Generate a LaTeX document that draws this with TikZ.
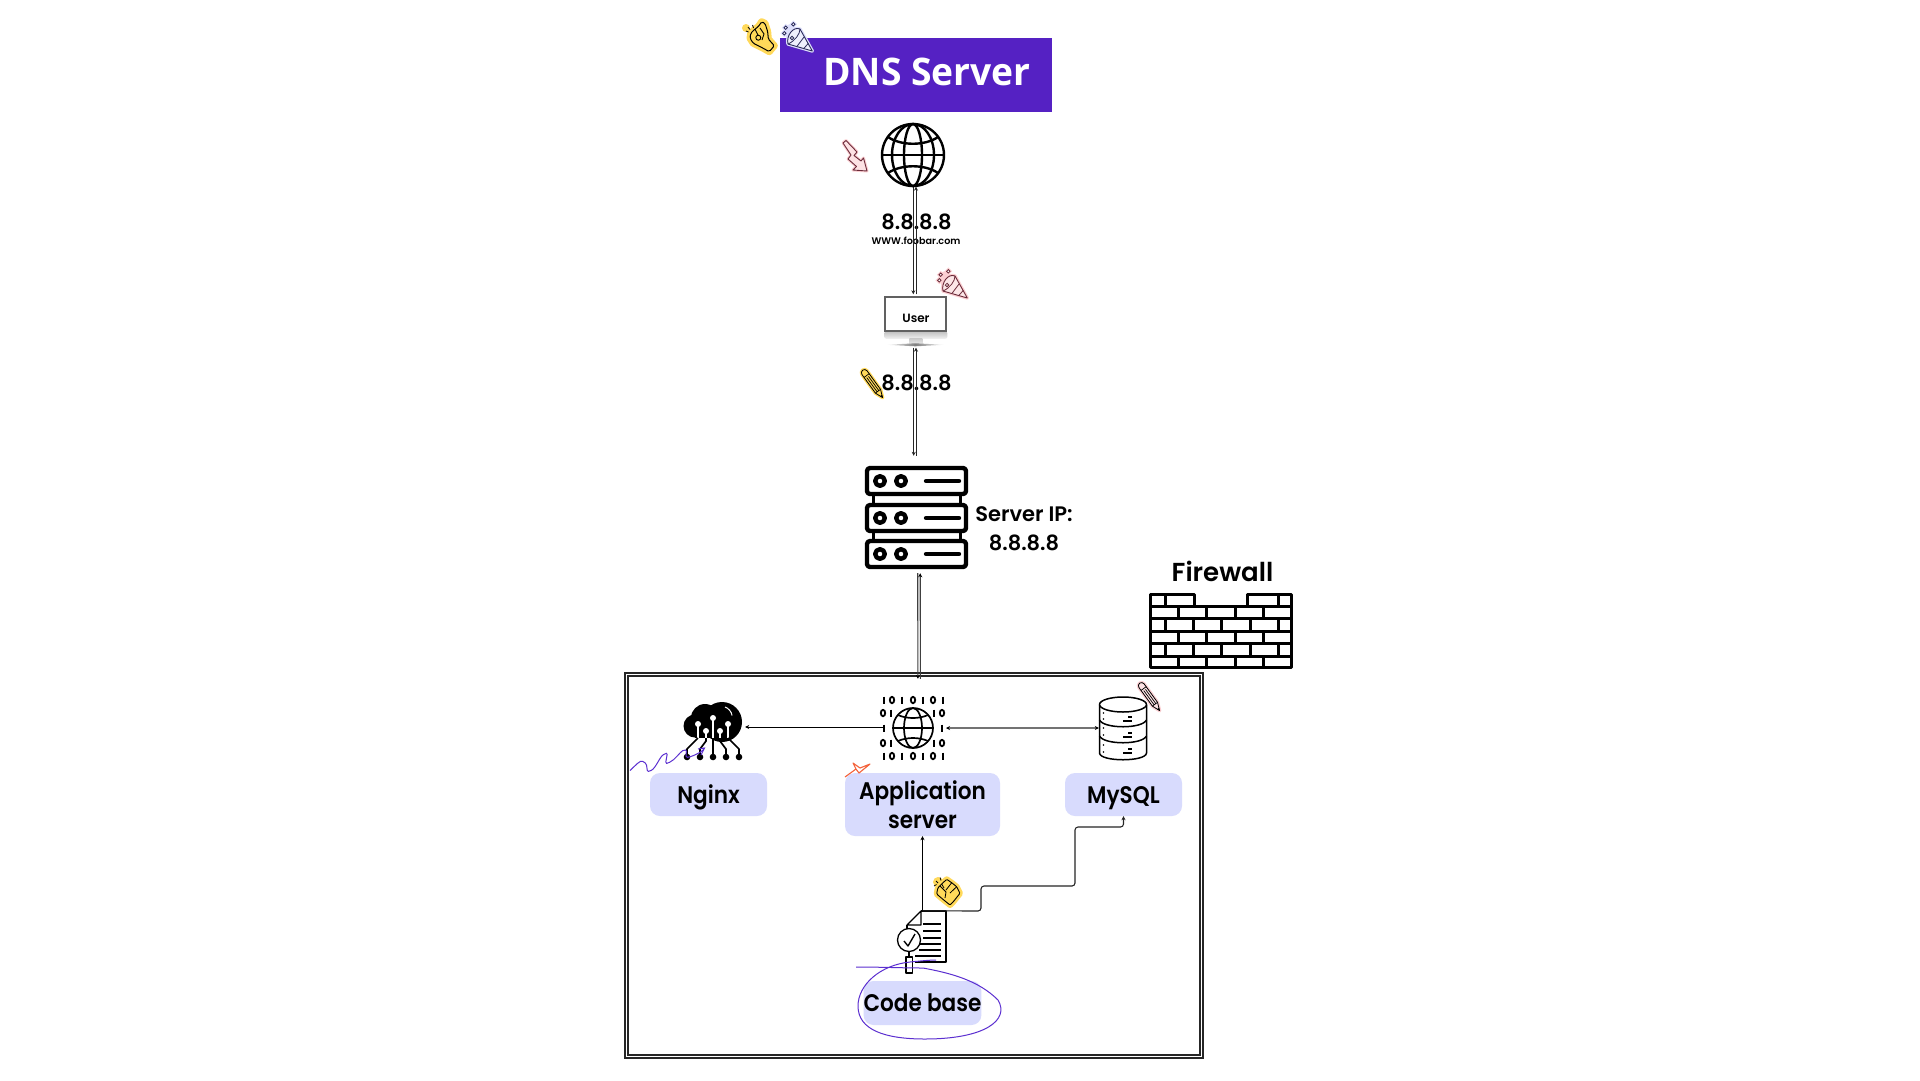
\documentclass[tikz,border=0pt]{standalone}
\usepackage{fontspec}
\usetikzlibrary{arrows.meta,calc,shapes.geometric}
\newfontfamily\dmf{Poppins SemiBold}
\newfontfamily\dmn[FakeStretch=0.9]{Poppins SemiBold}
\newfontfamily\banf{Open Sans}[BoldFont={Open Sans Bold},FakeStretch=0.98]
\definecolor{banner}{HTML}{5521C3}
\definecolor{pill}{HTML}{D8DBFD}
\definecolor{scrib}{HTML}{5B2FD0}
\definecolor{stickY}{HTML}{FFD95A}
\definecolor{stickP}{HTML}{FBCFD2}
\definecolor{stickB}{HTML}{DDDFFB}
\definecolor{inkred}{HTML}{6B2B3A}
\definecolor{inkblu}{HTML}{2B2B5B}
\definecolor{star}{HTML}{F4623A}
\tikzset{
  x=1pt,y=-1pt,
  conn/.style={line width=.9pt,draw=black!85,-{Stealth[length=4pt,width=4pt]}},
  conng/.style={line width=1.1pt,draw=black!75,-{Stealth[length=4pt,width=4pt,black]}},
  pillbox/.style={fill=pill,rounded corners=10pt,inner sep=0pt,align=center,font=\dmn\fontsize{24}{29.5}\selectfont},
  capcentred/.style={text height=17pt,text depth=0pt},
  lbl/.style={inner sep=0pt,align=center,font=\dmf\fontsize{21}{29.5}\selectfont},
  icon/.style={inner sep=0pt,minimum width=#1},
}
% pencil sticker: start x,y, rotation, halo colour, body fill
\newcommand\skpencil[5]{\begin{scope}[shift={(#1,#2)},rotate=#3,scale=.88]
 \path[draw=#4,line width=3.4pt,line join=round,fill=#4] (1,-3.6) -- (27,-3.6) -- (36,0) -- (27,3.6) -- (1,3.6) arc[start angle=90,end angle=270,radius=3.6] -- cycle;
 \draw[line width=.8pt,fill=#5,line join=round] (1,-3.6) -- (27,-3.6) -- (36,0) -- (27,3.6) -- (1,3.6) arc[start angle=90,end angle=270,radius=3.6] -- cycle;
 \draw[line width=.7pt] (5,-3.6) -- (5,3.6) (7,-1.2) -- (27,-1.2) (7,1.2) -- (27,1.2) (27,-3.6) -- (27,3.6);
 \fill (33,-1) -- (36,0) -- (33,1) -- cycle;
\end{scope}}
% party cone sticker (30x30 box): x,y, halo, ink
\newcommand\skparty[4]{\begin{scope}[shift={(#1,#2)}]
 \path[fill=#3,draw=#3,line width=3.4pt,line join=round] (29.3,28) -- (5,21) .. controls (3,13) and (10,3) .. (17,6) -- cycle;
 \foreach \p in {(2.7,4.7),(10.3,1.3),(1.3,10.3)} \path[fill=#3,draw=#3,line width=3pt] \p circle[radius=1.7];
 \fill[#3] (1,3) -- (11,0) -- (14,10) -- (7,20) -- (1,11) -- cycle;
 \draw[#4,line width=.9pt,line join=round,fill=white!50!#3] (29.3,28) -- (5,21) .. controls (3,13) and (10,3) .. (17,6) -- cycle;
 \draw[#4,line width=.8pt] (14.3,23) -- (21,14) (21,25.3) -- (25.3,20.3) (17,6) .. controls (17,11) and (12,18) .. (5,21);
 \foreach \p in {(2.7,4.7),(10.3,1.3),(1.3,10.3),(9,15)} \draw[#4,line width=.8pt,fill=white] \p circle[radius=1.7];
\end{scope}}
\begin{document}
\begin{tikzpicture}
\useasboundingbox (0,0) rectangle (1920,1080);
\fill[white] (0,0) rectangle (1920,1080);

% ---- big box
\draw[line width=2.2pt,draw=black!85] (625,673) rectangle (1203,1058);
\draw[line width=1.8pt,draw=black!85] (628,676) rectangle (1200,1055);

% ---- nodes
\node[fill=banner,minimum width=272pt,minimum height=74pt,inner sep=0pt] (dns) at (916,75) {};
\node[inner sep=0pt,text=white,font=\banf\bfseries\fontsize{38}{38}\selectfont] (dnstext) at (927,72) {DNS Server};
\node[icon=63pt,minimum height=63pt] (globe) at (913,155) {};
\node[lbl] (ipa) at (916.5,222) {8.8.8.8};
\node[inner sep=0pt,font=\dmf\fontsize{9.6}{10}\selectfont] (www) at (916,241) {WWW.foobar.com};
\node[icon=63pt,minimum height=51pt] (user) at (916,321) {};
\node[lbl] (ipb) at (916.5,383) {8.8.8.8};
\node[icon=103pt,minimum height=103pt] (server) at (916.5,517.5) {};
\node[lbl] (srvip) at (1024,528.5) {Server IP:\\8.8.8.8};
\node[inner sep=0pt,font=\dmf\fontsize{26}{26}\selectfont] (fwtext) at (1222.5,571) {Firewall};
\node[draw=none,minimum width=578pt,minimum height=386pt,inner sep=0pt] (net) at (913,865) {};
\node[pillbox,capcentred,minimum width=117pt,minimum height=43pt] (nginx) at (708.5,794.5) {Nginx};
\node[pillbox,minimum width=155pt,minimum height=63pt] (app) at (922.5,804.5) {Application\\server};
\node[pillbox,capcentred,minimum width=117pt,minimum height=43pt] (mysql) at (1123.5,794.5) {MySQL};
\node[pillbox,minimum width=117pt,minimum height=44pt] (code) at (922.5,1003) {Code base};
\node[icon=58pt,minimum height=55pt] (cloud) at (713,730) {};
\node[icon=48pt,minimum height=62pt] (db) at (1123,728) {};
\node[icon=40pt,minimum height=40pt] (appglobe) at (913,728) {};
\node[icon=40pt,minimum height=62pt] (doc) at (926,942) {};

% ---- connector ends
\coordinate (g1) at ($(globe.south)+(0.3,0)$);
\coordinate (g2) at ($(globe.south)+(3,0)$);
\coordinate (u1) at ($(user.north)+(-2.7,-1)$);
\coordinate (u2) at ($(user.north)+(0,-1)$);
\coordinate (u3) at ($(user.south)+(-2.3,1)$);
\coordinate (u4) at ($(user.south)+(0,1)$);
\coordinate (s1) at ($(server.north)+(-2.8,-10)$);
\coordinate (s2) at ($(server.north)+(-0.5,-10)$);
\coordinate (s3) at ($(server.south)+(1.2,4)$);
\coordinate (s4) at ($(server.south)+(3.7,4)$);
\coordinate (n1) at ($(net.north)+(4.9,7)$);
\coordinate (n2) at ($(net.north)+(7.4,7)$);

% ---- vertical links
\draw[conn] (g1) -- (u1);
\draw[conn] (u2) -- (g2);
\draw[conn] (u3) -- (s1);
\draw[conn] (s2) -- (u4);
\draw[conng] (s3) -- (n1);
\draw[conng] (n2) -- (s4);

% ---- globe
\begin{scope}[shift={(globe.center)},line width=2.4pt,draw=black]
 \draw (0,0) circle[radius=31];
 \draw (0,0) ellipse[x radius=21,y radius=31];
 \draw (0,0) ellipse[x radius=9,y radius=31];
 \draw (-31,0) -- (31,0);
 \draw (-25,-18) .. controls (-12,-9) and (12,-9) .. (25,-18);
 \draw (-25,18) .. controls (-12,9) and (12,9) .. (25,18);
\end{scope}

% ---- monitor
\begin{scope}[shift={(user.north west)}]
 \shade[top color=black!25,bottom color=black!5,rounded corners=2pt] (0,36) rectangle (63,43.5);
 \shade[top color=black!20,bottom color=black!8] (25,43.5) rectangle (38,49);
 \draw[line width=1.7pt,draw=black!62,fill=white] (1,1.5) rectangle (62,36);
 \shade[left color=white,right color=white,middle color=black!50] (2,49.5) -- (31,48) -- (60,49.5) -- (31,51) -- cycle;
\end{scope}
\node[inner sep=0pt,font=\dmf\fontsize{12}{12}\selectfont] (usertext) at (916,318) {User};

% ---- server
\begin{scope}[line width=4.4pt,line join=round,draw=black]
 \draw[line width=3pt] (873,494) rectangle (960,505) (873,531) rectangle (960,541);
 \foreach \yy in {468,505,541} {
  \draw[rounded corners=3pt,fill=white] (867,\yy) rectangle (966,\yy+26);
  \draw (880,\yy+13) circle[radius=4.8];
  \draw (901,\yy+13) circle[radius=4.8];
  \draw[line cap=round] (926,\yy+13) -- (959,\yy+13);
 }
\end{scope}

% ---- firewall
\begin{scope}[line width=3pt,line join=round,draw=black]
 \draw (1150.5,594.5) -- (1194.5,594.5) -- (1194.5,606) -- (1247.5,606) -- (1247.5,594.5) -- (1291.5,594.5) -- (1291.5,667.5) -- (1150.5,667.5) -- cycle;
 \foreach \yy in {606,618.5,631,643.5,656} \draw (1150.5,\yy) -- (1291.5,\yy);
 \foreach \xx in {1165,1278} \draw (\xx,594.5) -- (\xx,606);
 \foreach \yy in {606,631,656} \foreach \xx in {1178.5,1206.5,1235,1263}
   \draw (\xx,\yy) -- (\xx,\yy+12.5);
 \foreach \yy in {618.5,643.5} \foreach \xx in {1165,1193,1221.5,1250,1278}
   \draw (\xx,\yy) -- (\xx,\yy+12.5);
\end{scope}

% ---- horizontal links
\coordinate (ag1) at (885,727);
\coordinate (ag2) at (946,728);
\coordinate (cg1) at ($(cloud.east)+(3,0)$);
\draw[line width=.9pt,-{Stealth[length=4pt,width=4pt]}] (ag1) -- (cg1 |- ag1);
\draw[line width=1.4pt,draw=black!55,{Stealth[length=4pt,width=4pt,black]}-{Stealth[length=4pt,width=4pt,black]}] (ag2) -- (db.west |- ag2);

% ---- cloud
\begin{scope}
 \fill (722,722) circle[radius=20];
 \fill (705,718) circle[radius=14];
 \fill (695,726) circle[radius=11.5];
 \fill (695,725) rectangle (730,738);
 \draw[white,line width=1pt] (725,707) arc[start angle=-70,end angle=-10,radius=11];
 \foreach \xx/\yy in {698/724,706/731,713/718,720/731,728/724} {
   \draw[white,line width=1.6pt] (\xx,\yy) -- (\xx,738);
   \fill[white] (\xx,\yy) circle[radius=3];
 }
 \begin{scope}[line width=1.7pt,line join=round]
 \draw (687,757) -- (687,749) -- (698,738);
 \draw (700,757) -- (700,749) -- (706,741) -- (706,738);
 \draw (713,757) -- (713,738);
 \draw (726,757) -- (726,749) -- (720,741) -- (720,738);
 \draw (739,757) -- (739,749) -- (728,738);
 \end{scope}
 \foreach \xx in {687,700,713,726,739} \fill (\xx,757) circle[radius=3.3];
\end{scope}

% ---- app globe
\begin{scope}[shift={(appglobe.center)},line width=1.7pt]
 \draw (0,0) circle[radius=20];
 \draw (0,0) ellipse[x radius=9,y radius=20];
 \draw (-20,0) -- (20,0);
 \draw (-15,-13) .. controls (-6,-9) and (6,-9) .. (15,-13);
 \draw (-15,13) .. controls (-6,9) and (6,9) .. (15,13);
\end{scope}
\begin{scope}[line width=1.8pt]
 \foreach \yy in {700,756} {
  \foreach \xx in {884,902,923,943} \draw (\xx,\yy-3.5) -- (\xx,\yy+3.5);
  \foreach \xx in {892,913,933} \draw (\xx,\yy) ellipse[x radius=2.2,y radius=3.2];
 }
 \foreach \yy in {713,743} {
  \foreach \xx in {891,934} \draw (\xx,\yy-3.5) -- (\xx,\yy+3.5);
  \foreach \xx in {883,942} \draw (\xx,\yy) ellipse[x radius=2.2,y radius=3.2];
 }
 \foreach \xx in {884,942} \draw (\xx,724.5) -- (\xx,731.5);
\end{scope}

% ---- database
\begin{scope}[line width=1.5pt,line join=round]
 \draw[fill=white] (1099.5,704.5) -- (1099.5,753) .. controls (1100,762) and (1146,762) .. (1146.5,753) -- (1146.5,704.5);
 \draw[fill=white] (1123,704.5) ellipse[x radius=23.5,y radius=7.5];
 \draw (1099.5,720) .. controls (1104,729) and (1142,729) .. (1146.5,720);
 \draw (1099.5,736) .. controls (1104,745) and (1142,745) .. (1146.5,736);
 \foreach \yy in {713,719,728,735,745,752} \fill (1103.5,\yy) circle[radius=.9];
 \foreach \yy in {721,737,753} {\draw (1123,\yy) -- (1132,\yy); \draw (1128,\yy-4) -- (1132,\yy-4);}
\end{scope}

% ---- document + magnifier
\begin{scope}[line width=1.3pt,line join=round]
 \draw[line width=1.5pt] (921,911) -- (946,911) -- (946,962) -- (915,962);
 \draw (921,911) -- (907,925) -- (921,925) -- cycle;
 \draw (907,925) -- (907,929);
 \foreach \yy/\xa in {924/923,931/923,938/923,944/915,950/919,956/915} \draw[line width=1.5pt] (\xa,\yy) -- (941,\yy);
 \draw[fill=white] (909,940) circle[radius=11.5];
 \draw[line width=1.4pt] (904,941) -- (908,946) -- (915,934);
 \draw (909,952) -- (909,957);
 \draw[fill=white] (906,957) rectangle (912.5,973);
\end{scope}

% ---- remaining links
\coordinate (m0) at (doc.north -| app.south);
\draw[line width=.9pt,-{Stealth[length=4pt,width=4pt]}] (m0) -- (app.south);
\draw[line width=1.1pt,draw=black!85,rounded corners=3pt,-{Stealth[length=4pt,width=4pt]}] (m0) -- (981,911) -- (981,886) -- (1075,886) -- (1075,827) -- (1123.5,827) -- (mysql.south);

% ---- pen scribbles
\draw[scrib,line width=1pt,rounded corners=1.5pt] (630,770.5) .. controls (636,765) and (640,760) .. (644,762) .. controls (648,765) and (646,772) .. (650,771) .. controls (656,768) and (660,756) .. (665,754) .. controls (669,752) and (664,764) .. (668,763) .. controls (675,760) and (680,752) .. (684,750) .. controls (688,750) and (684,758) .. (689,757) .. controls (696,755) and (705,750) .. (704,748);
\draw[scrib,line width=1pt] (698,749) -- (704.5,748) -- (701,755);
\draw[star,line width=1.1pt,line join=round] (845,777) -- (856,769) -- (853,763) -- (860,768) -- (870,764) -- (859,773) -- (856,769);
\draw[scrib,line width=1pt] (856,967) .. controls (880,967) and (905,968) .. (923,968) .. controls (950,973) and (978,980) .. (998,1000) .. controls (1010,1020) and (985,1039) .. (925,1039) .. controls (885,1039) and (858,1030) .. (858,1006) .. controls (858,985) and (880,965) .. (910,962) .. controls (920,961) and (930,960) .. (936,960);

% ---- stickers
% OK hand
\path[fill=stickY,draw=stickY,line width=7pt,line join=round] (750.7,33.3) -- (750,38.3) -- (753.3,43.3) -- (763.3,48.3) -- (769.3,51.7) -- (774.3,45.7) -- (768.3,39) -- (767.7,31.7) -- (765,23.3) -- (761.7,21.7) -- (758.3,26.7) -- (755,29) -- cycle;
\fill[stickY] (746,28) circle[radius=4];
\draw[line width=1pt,line join=round,rounded corners=1.5pt] (750.7,33.3) -- (750,38.3) -- (753.3,43.3) -- (763.3,48.3) -- (769.3,51.7) -- (774.3,45.7) -- (768.3,39) -- (767.7,31.7) -- (765,23.3) -- (761.7,21.7) -- (758.3,26.7) -- (755,29) -- cycle;
\draw[line width=.9pt] (758.3,37.7) circle[radius=2.5];
\draw[line width=.9pt] (760,28) -- (764,34) -- (762,40) (755,29) -- (758,35.2);
\draw[line width=.8pt] (746,31) -- (748.5,32) (748,27) -- (750,29.5) (752.5,25) -- (753.5,28);
\skparty{783}{23}{stickB}{inkblu}
\skparty{938}{270}{stickP}{inkred}
% zigzag arrow
\path[fill=stickP,draw=stickP,line width=3pt,line join=round] (843,143) -- (846,140.5) -- (857,152) -- (854,155.5) -- (861,161) -- (863.5,158) -- (867,171) -- (853,170) -- (856.5,166.5) -- (848,159) -- (851,155) -- cycle;
\draw[inkred,line width=.9pt,line join=round,fill=white!40!stickP] (843,143) -- (846,140.5) -- (857,152) -- (854,155.5) -- (861,161) -- (863.5,158) -- (867,171) -- (853,170) -- (856.5,166.5) -- (848,159) -- (851,155) -- cycle;
\skpencil{864}{372}{-54}{stickY}{stickY}
\skpencil{1141}{685}{-54}{stickP}{white!40!stickP}
% clap hand
\path[fill=stickY,draw=stickY,line width=6pt,line join=round] (937.7,888.3) -- (936.7,894) -- (941.7,898.3) -- (950,905) -- (953.3,901.7) -- (960,893.3) -- (956.7,886.7) -- (951.7,882.7) -- (946.7,879.3) -- (941.7,884) -- (939,886.7) -- cycle;
\fill[stickY] (938,882) circle[radius=5];
\draw[line width=.9pt,line join=round,rounded corners=1pt] (937.7,888.3) -- (936.7,894) -- (941.7,898.3) -- (950,905) -- (953.3,901.7) -- (960,893.3) -- (956.7,886.7) -- (951.7,882.7) -- (946.7,879.3) -- (941.7,884) -- (939,886.7) -- cycle;
\draw[line width=.8pt] (951.7,882.7) -- (946,890) (956.7,886.7) -- (950,893) (940,886) -- (946,892) -- (945,898) (941.7,884) -- (944,888);
\draw[line width=.8pt] (934,886) -- (936.5,884.5) (936,881) -- (938,883) (940,877.5) -- (941,880.5);
\end{tikzpicture}
\end{document}
